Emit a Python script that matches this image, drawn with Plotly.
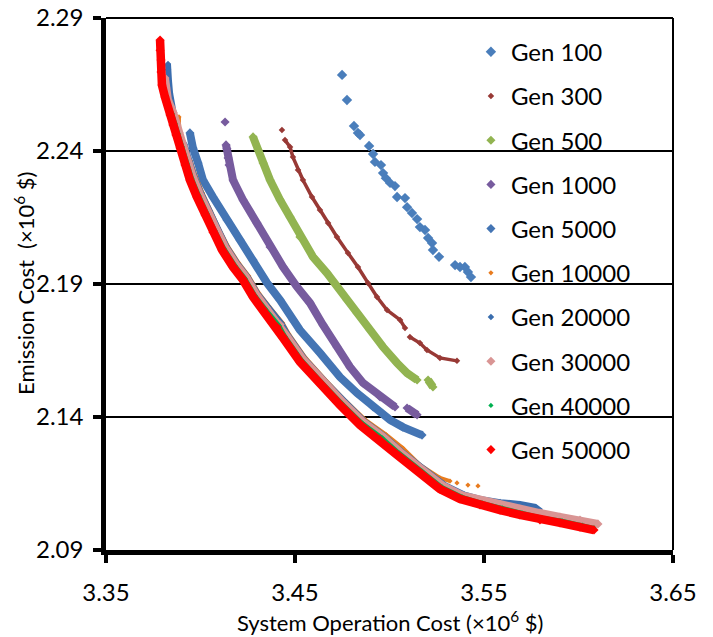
import plotly.graph_objects as go

# ---------------- data (×10^6 $) ----------------
SERIES_NAMES = ["Gen 100", "Gen 300", "Gen 500", "Gen 1000", "Gen 5000",
                "Gen 10000", "Gen 20000", "Gen 30000", "Gen 40000", "Gen 50000"]

X_TICKS = [3.35, 3.45, 3.55, 3.65]
Y_TICKS = [2.09, 2.14, 2.19, 2.24, 2.29]

gen100_x = [3.4749, 3.4775, 3.4812, 3.4833, 3.4844, 3.4892, 3.4913, 3.4923, 3.4955, 3.4966,
            3.4981, 3.5003, 3.5029, 3.5040, 3.5082, 3.5093, 3.5119, 3.5146, 3.5161, 3.5188,
            3.5204, 3.5225, 3.5230, 3.5262, 3.5347, 3.5373, 3.5399, 3.5415, 3.5431]
gen100_y = [2.2686, 2.2592, 2.2494, 2.2468, 2.2460, 2.2419, 2.2389, 2.2359, 2.2347, 2.2317,
            2.2298, 2.2280, 2.2268, 2.2227, 2.2223, 2.2189, 2.2167, 2.2144, 2.2114, 2.2103,
            2.2073, 2.2054, 2.2028, 2.2002, 2.1971, 2.1964, 2.1964, 2.1945, 2.1926]

gen300_x = [3.4431, None, 3.4447, 3.4474, 3.4489, 3.4516, 3.4542, 3.4590, 3.4632, 3.4675,
            3.4722, 3.4780, 3.4833, 3.4886, 3.4934, 3.4987, 3.5056, 3.5082, None, 3.5108,
            3.5161, 3.5198, 3.5267, 3.5357]
gen300_y = [2.2479, None, 2.2441, 2.2415, 2.2377, 2.2329, 2.2291, 2.2227, 2.2178, 2.2129,
            2.2077, 2.2017, 2.1964, 2.1904, 2.1851, 2.1802, 2.1765, 2.1735, None, 2.1701,
            2.1678, 2.1652, 2.1622, 2.1611]

gen500_x = [3.4278, 3.4304, 3.4331, 3.4368, 3.4421, 3.4474, 3.4526, 3.4595, 3.4669, 3.4775,
            3.4828, 3.4897, 3.4966, 3.5040, 3.5093, 3.5146, None, 3.5204, 3.5230]
gen500_y = [2.2453, 2.2404, 2.2355, 2.2291, 2.2216, 2.2152, 2.2077, 2.2002, 2.1941, 2.1840,
            2.1791, 2.1727, 2.1663, 2.1603, 2.1565, 2.1539, None, 2.1539, 2.1513]

gen1000_x = [3.4130, None, 3.4135, 3.4140, 3.4146, 3.4151, 3.4172, 3.4225, 3.4299, 3.4368,
             3.4437, 3.4511, 3.4579, 3.4648, 3.4722, 3.4791, 3.4860, 3.4950, 3.5029, None,
             3.5093, 3.5146]
gen1000_y = [2.2509, None, 2.2423, 2.2408, 2.2374, 2.2347, 2.2291, 2.2216, 2.2129, 2.2039,
             2.1964, 2.1889, 2.1829, 2.1746, 2.1663, 2.1588, 2.1528, 2.1475, 2.1438, None,
             2.1434, 2.1408]

gen5000_x = [3.3944, 3.3960, 3.3987, 3.4013, 3.4066, 3.4140, 3.4209, 3.4278, 3.4352, 3.4421,
             3.4489, 3.4526, 3.4632, 3.4738, 3.4828, 3.4913, 3.5003, 3.5071, 3.5172]
gen5000_y = [2.2468, 2.2411, 2.2355, 2.2291, 2.2227, 2.2141, 2.2065, 2.1990, 2.1904, 2.1840,
             2.1765, 2.1727, 2.1641, 2.1550, 2.1490, 2.1438, 2.1389, 2.1362, 2.1332]

gen10000_x = [3.3886, 3.3886, 3.3892, 3.3902, 3.3948, 3.3974, 3.4011, 3.4054, 3.4096, 3.4144,
              3.4202, 3.4255, 3.4308, 3.4361, 3.4435, 3.4467, 3.4556, 3.4662, 3.4768, 3.4874,
              3.4980, 3.5070, 3.5161, 3.5267, 3.5320, None, 3.5357, None, 3.5415, None, 3.5468]
gen10000_y = [2.2528, 2.2498, 2.2460, 2.2423, 2.2362, 2.2306, 2.2242, 2.2174, 2.2110, 2.2043,
              2.1979, 2.1930, 2.1866, 2.1817, 2.1753, 2.1712, 2.1622, 2.1539, 2.1460, 2.1388,
              2.1335, 2.1283, 2.1220, 2.1171, 2.1159, None, 2.1152, None, 2.1144, None, 2.1141]

gen20000_x = [3.3828, 3.3828, 3.3833, 3.3839, 3.3849, 3.3860, 3.3876, 3.3892, 3.3916, 3.3942,
              3.3968, 3.4005, 3.4048, 3.4090, 3.4138, 3.4196, 3.4249, 3.4302, 3.4355, 3.4429,
              3.4461, 3.4550, 3.4656, 3.4762, 3.4868, 3.4974, 3.5064, 3.5185, 3.5291, 3.5397,
              3.5479, 3.5585, 3.5690, 3.5770, 3.5802]
gen20000_y = [2.2727, 2.2705, 2.2667, 2.2618, 2.2573, 2.2535, 2.2490, 2.2449, 2.2423, 2.2359,
              2.2303, 2.2239, 2.2171, 2.2107, 2.2040, 2.1976, 2.1927, 2.1863, 2.1814, 2.1750,
              2.1709, 2.1619, 2.1536, 2.1457, 2.1383, 2.1327, 2.1270, 2.1203, 2.1145, 2.1108,
              2.1092, 2.1080, 2.1073, 2.1062, 2.1045]

gen30000_x = [3.3812, 3.3817, 3.3828, 3.3855, 3.3870, 3.3886, 3.3908, 3.3934, 3.3960, 3.3997,
              3.4040, 3.4082, 3.4130, 3.4188, 3.4241, 3.4294, 3.4347, 3.4421, 3.4453, 3.4542,
              3.4648, 3.4754, 3.4860, 3.4966, 3.5056, 3.5177, 3.5283, 3.5389, 3.5490, 3.5585,
              3.5690, 3.5796, 3.5902, 3.6008, 3.6103]
gen30000_y = [2.2674, 2.2637, 2.2592, 2.2545, 2.2508, 2.2470, 2.2421, 2.2357, 2.2301, 2.2237,
              2.2169, 2.2105, 2.2038, 2.1974, 2.1925, 2.1861, 2.1812, 2.1748, 2.1707, 2.1617,
              2.1534, 2.1455, 2.1381, 2.1325, 2.1268, 2.1200, 2.1141, 2.1104, 2.1086, 2.1073,
              2.1054, 2.1039, 2.1024, 2.1013, 2.0998]

gen40000_x = [3.3791, 3.3796, 3.3802, 3.3812, 3.3850, 3.3866, 3.3882, 3.3903, 3.3929, 3.3955,
              3.3992, 3.4035, 3.4077, 3.4125, 3.4183, 3.4236, 3.4289, 3.4342, 3.4416, 3.4448,
              3.4537, 3.4643, 3.4749, 3.4855, 3.4961, 3.5051, 3.5172, 3.5278, 3.5384, 3.5490,
              3.5596, 3.5701, 3.5807, 3.5913, 3.6019, 3.6082]
gen40000_y = [2.2802, 2.2761, 2.2667, 2.2592, 2.2541, 2.2504, 2.2466, 2.2417, 2.2353, 2.2297,
              2.2233, 2.2165, 2.2101, 2.2034, 2.1970, 2.1921, 2.1857, 2.1808, 2.1744, 2.1703,
              2.1613, 2.1530, 2.1451, 2.1378, 2.1322, 2.1265, 2.1197, 2.1137, 2.1100, 2.1077,
              2.1058, 2.1040, 2.1021, 2.1010, 2.0994, 2.0983]

gen50000_x = [3.3786, 3.3786, 3.3791, 3.3791, 3.3796, 3.3812, 3.3839, 3.3854, 3.3870, 3.3892,
              3.3918, 3.3944, 3.3981, 3.4024, 3.4066, 3.4114, 3.4172, 3.4225, 3.4278, 3.4331,
              3.4405, 3.4437, 3.4526, 3.4632, 3.4738, 3.4844, 3.4950, 3.5040, 3.5161, 3.5267,
              3.5373, 3.5479, 3.5585, 3.5690, 3.5796, 3.5902, 3.6008, 3.6082]
gen50000_y = [2.2817, 2.2779, 2.2742, 2.2697, 2.2648, 2.2603, 2.2535, 2.2498, 2.2460, 2.2411,
              2.2347, 2.2291, 2.2227, 2.2159, 2.2095, 2.2028, 2.1964, 2.1915, 2.1851, 2.1802,
              2.1738, 2.1697, 2.1607, 2.1524, 2.1445, 2.1370, 2.1314, 2.1257, 2.1189, 2.1129,
              2.1092, 2.1069, 2.1050, 2.1032, 2.1013, 2.1002, 2.0986, 2.0975]

SERIES_X = [gen100_x, gen300_x, gen500_x, gen1000_x, gen5000_x,
            gen10000_x, gen20000_x, gen30000_x, gen40000_x, gen50000_x]
SERIES_Y = [gen100_y, gen300_y, gen500_y, gen1000_y, gen5000_y,
            gen10000_y, gen20000_y, gen30000_y, gen40000_y, gen50000_y]

X_TITLE = "System Operation Cost (×10<sup>6</sup> $)"
Y_TITLE = "Emission Cost  (×10<sup>6</sup> $)"

# ---------------- styles ----------------
COLORS = ["#4A7EBB", "#983935", "#92B451", "#775B9E", "#4475B4",
          "#E87B1E", "#3A6DAE", "#D99594", "#00B050", "#FF0000"]
MARKER_SIZES = [8, 5, 7, 7, 7, 4, 5, 7, 4, 7]
LINE_WIDTHS = [0, 3.5, 8, 8, 8, 4, 6, 8, 4, 8.5]

FONT = "Lato, 'Open Sans', sans-serif"

fig = go.Figure()
for i, name in enumerate(SERIES_NAMES):
    grp = f"g{i}"
    if LINE_WIDTHS[i] > 0:
        fig.add_trace(go.Scatter(
            x=SERIES_X[i], y=SERIES_Y[i], mode="lines",
            line=dict(color=COLORS[i], width=LINE_WIDTHS[i]),
            connectgaps=False, showlegend=False, legendgroup=grp, hoverinfo="skip"))
    fig.add_trace(go.Scatter(
        x=SERIES_X[i], y=SERIES_Y[i], mode="markers", name=name, legendgroup=grp,
        marker=dict(symbol="diamond", size=MARKER_SIZES[i], color=COLORS[i], line=dict(width=0))))

# the page body adds an 8px offset, so the figure is 8px smaller on each axis
fig.update_layout(
    width=705, height=629,
    margin=dict(l=98, r=40, t=10, b=87, autoexpand=False),
    paper_bgcolor="white", plot_bgcolor="white",
    font=dict(family=FONT, color="black"),
    showlegend=True,
    legend=dict(x=0.6436, y=0.978, xanchor="left", yanchor="top",
                font=dict(size=24, family=FONT, color="black"),
                bgcolor="rgba(0,0,0,0)", traceorder="grouped", tracegroupgap=10,
                itemsizing="trace"),
    shapes=[
        dict(type="line", xref="paper", yref="paper", x0=0, x1=1, y0=1, y1=1,
             line=dict(color="black", width=2), layer="above"),
        dict(type="line", xref="paper", yref="paper", x0=1, x1=1, y0=0, y1=1,
             line=dict(color="black", width=2), layer="above"),
    ],
    annotations=[
        dict(text=X_TITLE, xref="paper", yref="paper", x=0.501, y=0, yshift=-71,
             xanchor="center", yanchor="middle", showarrow=False,
             font=dict(size=22, family=FONT, color="black")),
        dict(text=Y_TITLE, xref="paper", yref="paper", x=0, y=0.5, xshift=-82,
             xanchor="center", yanchor="middle", showarrow=False, textangle=-90,
             font=dict(size=22, family=FONT, color="black")),
    ],
)

fig.update_xaxes(
    range=[3.35, 3.65], tickvals=X_TICKS, ticktext=[f"{v:.2f}" for v in X_TICKS],
    showgrid=False, zeroline=False, automargin=False, ticklabeloverflow="allow",
    showline=True, linecolor="black", linewidth=4.5,
    ticks="outside", ticklen=8, tickwidth=4, tickcolor="black",
    tickfont=dict(size=24, family=FONT, color="black"), ticklabelstandoff=9,
)
fig.update_yaxes(
    range=[2.09, 2.29], tickvals=Y_TICKS, ticktext=[f"{v:.2f}" for v in Y_TICKS],
    showgrid=True, gridcolor="black", gridwidth=2, zeroline=False, automargin=False,
    ticklabeloverflow="allow",
    showline=True, linecolor="black", linewidth=4.5,
    ticks="outside", ticklen=8, tickwidth=4, tickcolor="black",
    tickfont=dict(size=24, family=FONT, color="black"), ticklabelstandoff=5,
)

fig.write_html("out.html")
